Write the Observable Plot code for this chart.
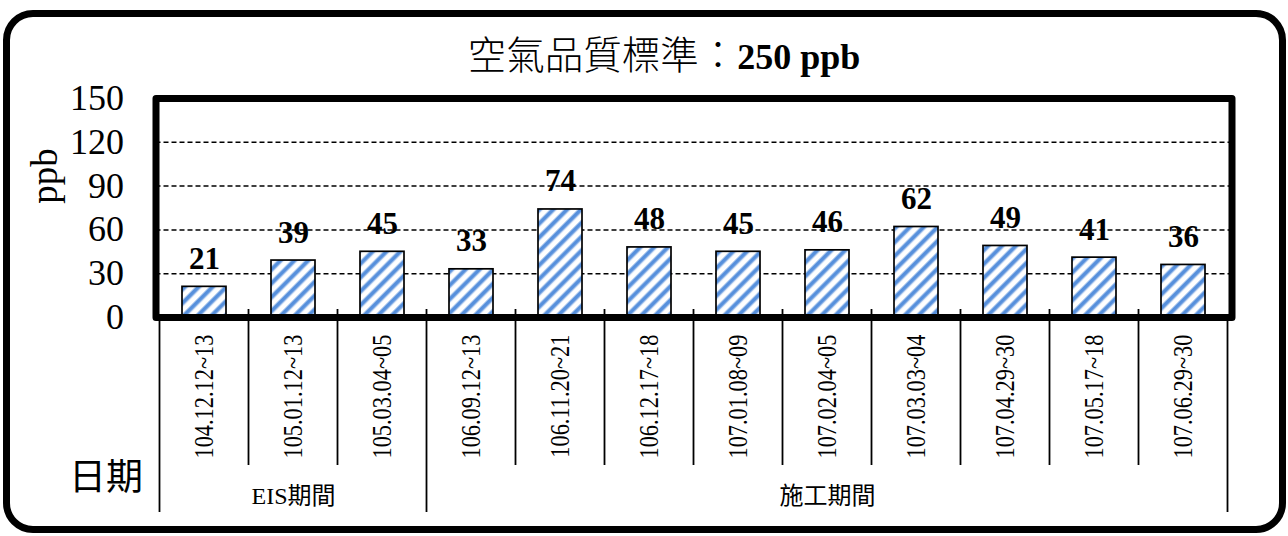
<!DOCTYPE html>
<html>
<head>
<meta charset="utf-8">
<script src="https://cdn.jsdelivr.net/npm/d3@7"></script>
<script src="https://cdn.jsdelivr.net/npm/@observablehq/plot@0.6"></script>
<style>
  html, body { margin: 0; padding: 0; background: #fff; }
  body { width: 1288px; height: 536px; position: relative; overflow: hidden;
         font-family: "Liberation Serif", "Noto Sans CJK TC", serif; color: #000; }
  #frame { position: absolute; left: 3px; top: 10px; width: 1283px; height: 523px;
           border: 7px solid #000; border-radius: 30px; box-sizing: border-box; }
  #title { position: absolute; left: 40px; width: 1248px; top: 33px; height: 46px; line-height: 46px;
           text-align: center; font-size: 38.5px; white-space: nowrap; font-weight: 300;
           font-family: "Liberation Serif", "Noto Sans CJK TC", serif; }
  #title b { font-size: 36px; font-weight: bold; }
  #chart { position: absolute; left: 0; top: 80px; }
</style>
</head>
<body>
<div id="frame"></div>
<div id="title"></div>
<div id="chart"></div>
<script>
// ---- data ----
const dates = ["104.12.12~13", "105.01.12~13", "105.03.04~05", "106.09.12~13", "106.11.20~21", "106.12.17~18",
               "107.01.08~09", "107.02.04~05", "107.03.03~04", "107.04.29~30", "107.05.17~18", "107.06.29~30"];
const values = [21, 39, 45, 33, 74, 48, 45, 46, 62, 49, 41, 36];
const periods = ["EIS期間", "EIS期間", "EIS期間", "施工期間", "施工期間", "施工期間",
                 "施工期間", "施工期間", "施工期間", "施工期間", "施工期間", "施工期間"];
const yTicks = [0, 30, 60, 90, 120, 150];
const gridTicks = [30, 60, 90, 120];
const yLabel = "ppb";
const xLabel = "日期";
const titleText = "空氣品質標準：";
const titleValue = "250 ppb";

// ---- build ----
document.getElementById("title").innerHTML = titleText + "<b>" + titleValue + "</b>";

const rows = dates.map((d, i) => ({date: d, value: values[i], period: periods[i]}));
const groupNames = Array.from(new Set(periods));
const groups = groupNames.map(g => {
  const members = dates.filter((d, i) => periods[i] === g);
  return {name: g, mid: members[Math.floor((members.length - 1) / 2)]};
});

const padInner = 0.51;

function patternDefs() {
  const defs = d3.create("svg:defs");
  const p = defs.append("pattern")
    .attr("id", "hatch")
    .attr("patternUnits", "userSpaceOnUse")
    .attr("width", 9.8).attr("height", 9.8)
    .attr("patternTransform", "rotate(45)");
  p.append("rect").attr("width", 9.8).attr("height", 9.8).attr("fill", "#ffffff");
  p.append("rect").attr("x", 0).attr("width", 5.2).attr("height", 9.8).attr("fill", "#b3ccef");
  p.append("rect").attr("x", 0.9).attr("width", 3.4).attr("height", 9.8).attr("fill", "#5790dc");
  return defs.node();
}

function separators(index, scales) {
  const x = scales.x, y = scales.y;
  const bw = x.bandwidth();
  const step = x.step ? x.step() : bw / (1 - padInner);
  const half = (step - bw) / 2;
  const y0 = y(0);
  const g = d3.create("svg:g").attr("stroke", "#000").attr("stroke-width", 1.8).attr("fill", "none");
  dates.forEach((d, i) => {
    const left = x(d) - half;
    const groupStart = i === 0 || periods[i] !== periods[i - 1];
    g.append("line")
      .attr("x1", left).attr("x2", left)
      .attr("y1", i === 0 ? y0 : y0 - 8)
      .attr("y2", y0 + (groupStart ? 195 : 148));
  });
  const last = dates[dates.length - 1];
  const right = x(last) + bw + half;
  g.append("line").attr("x1", right).attr("x2", right).attr("y1", y0).attr("y2", y0 + 195);
  return g.node();
}

const chart = Plot.plot({
  width: 1288,
  height: 440,
  marginLeft: 155.5,
  marginRight: 56.5,
  marginTop: 18,
  marginBottom: 203,
  style: {fontFamily: "'Liberation Serif', 'Noto Sans CJK TC', serif", color: "#000", background: "transparent", overflow: "visible"},
  x: {domain: dates, paddingInner: padInner, paddingOuter: padInner / 2, align: 0.5},
  y: {domain: [0, 150]},
  marks: [
    patternDefs,
    Plot.ruleY(gridTicks, {stroke: "#000", strokeWidth: 1.5, strokeDasharray: "5,3"}),
    Plot.barY(rows, {x: "date", y: "value", fill: "url(#hatch)", stroke: "#000", strokeWidth: 1.7}),
    Plot.text(rows, {x: "date", y: "value", text: d => String(d.value), dy: -18, lineAnchor: "bottom",
                     fontSize: 31, fontWeight: "bold", fill: "#000"}),
    Plot.frame({stroke: "#000", strokeWidth: 7, strokeLinejoin: "round"}),
    Plot.axisY({ticks: yTicks, tickSize: 0, tickPadding: 32, fontSize: 36, label: null}),
    Plot.axisX({tickRotate: -90, tickSize: 0, tickPadding: 17, fontSize: 28, label: null}),
    separators,
    Plot.text(groups, {x: "mid", text: "name", frameAnchor: "bottom", dy: 179, lineAnchor: "middle", textAnchor: "middle", fontSize: 24}),
    Plot.text([yLabel], {frameAnchor: "left", rotate: -90, dx: -111, dy: -32, lineAnchor: "middle", textAnchor: "middle", fontSize: 37}),
    Plot.text([xLabel], {frameAnchor: "bottom-left", dx: -50, dy: 161, lineAnchor: "middle", textAnchor: "middle", fontSize: 37})
  ]
});
// condense the rotated category labels along their reading direction, as in the reference
d3.select(chart).selectAll('g[aria-label="x-axis tick label"] text').each(function() {
  const t = this.getAttribute("transform") || "";
  this.setAttribute("transform", t + " scale(0.8,1)");
});
document.getElementById("chart").appendChild(chart);
</script>
</body>
</html>
